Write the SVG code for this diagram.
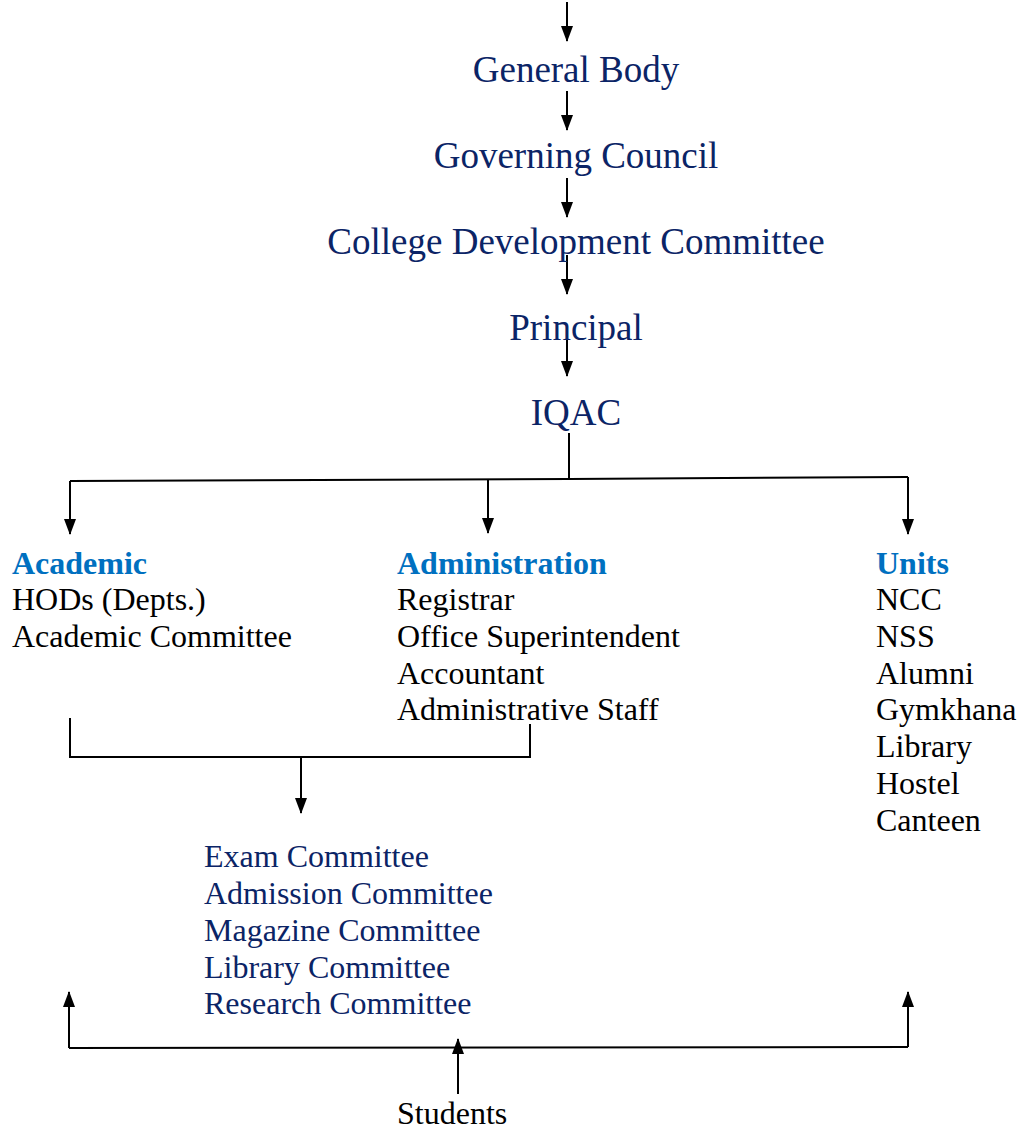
<svg xmlns="http://www.w3.org/2000/svg" width="1022" height="1129" viewBox="0 0 1022 1129">
<defs>
<marker id="ah" markerUnits="userSpaceOnUse" markerWidth="16" markerHeight="13" refX="15" refY="6.5" orient="auto">
<path d="M0,0.5 L16,6.5 L0,12.5 Z" fill="#000"/>
</marker>
<style>
.t{font-family:"Liberation Serif","Times New Roman",serif;}
.top{font-size:37px;fill:#0B2466;text-anchor:middle;}
.hd{font-size:32px;font-weight:bold;fill:#0070C0;}
.bd{font-size:32px;fill:#000;}
.cm{font-size:32px;fill:#0B2466;}
.c{stroke:#000;stroke-width:2;fill:none;}
.a{stroke:#000;stroke-width:2;fill:none;marker-end:url(#ah);}
</style>
</defs>
<rect width="1022" height="1129" fill="#fff"/>
<g id="connectors">
<line class="a" x1="567" y1="2" x2="567" y2="41"/>
<line class="a" x1="567" y1="91" x2="567" y2="130"/>
<line class="a" x1="567" y1="178" x2="567" y2="217"/>
<line class="a" x1="567" y1="255" x2="567" y2="294"/>
<line class="a" x1="567" y1="335" x2="567" y2="376"/>
<line class="c" x1="569" y1="433" x2="569" y2="479"/>
<polyline class="c" points="70,481 569,479 908,477"/>
<line class="a" x1="70" y1="481" x2="70" y2="534"/>
<line class="a" x1="488" y1="480" x2="488" y2="533"/>
<line class="a" x1="908" y1="477" x2="908" y2="534"/>
<polyline class="c" points="70,718 70,757 530,757 530,724"/>
<line class="a" x1="301" y1="757" x2="301" y2="813"/>
<polyline class="c" points="69,1048 908,1047"/>
<line class="a" x1="69" y1="1048" x2="69" y2="992"/>
<line class="a" x1="908" y1="1047" x2="908" y2="992"/>
<line class="a" x1="458" y1="1094" x2="458" y2="1039"/>
</g>
<g id="general-body"><text class="t top" x="576" y="82">General Body</text></g>
<g id="governing-council"><text class="t top" x="576" y="168">Governing Council</text></g>
<g id="cdc"><text class="t top" x="576" y="254">College Development Committee</text></g>
<g id="principal"><text class="t top" x="576" y="340">Principal</text></g>
<g id="iqac"><text class="t top" x="576" y="425">IQAC</text></g>
<g id="academic">
<text class="t hd" x="12" y="574">Academic</text>
<text class="t bd" x="12" y="610">HODs (Depts.)</text>
<text class="t bd" x="12" y="647">Academic Committee</text>
</g>
<g id="administration">
<text class="t hd" x="397" y="574">Administration</text>
<text class="t bd" x="397" y="610">Registrar</text>
<text class="t bd" x="397" y="647">Office Superintendent</text>
<text class="t bd" x="397" y="684">Accountant</text>
<text class="t bd" x="397" y="720">Administrative Staff</text>
</g>
<g id="units">
<text class="t hd" x="876" y="574">Units</text>
<text class="t bd" x="876" y="610">NCC</text>
<text class="t bd" x="876" y="647">NSS</text>
<text class="t bd" x="876" y="684">Alumni</text>
<text class="t bd" x="876" y="720">Gymkhana</text>
<text class="t bd" x="876" y="757">Library</text>
<text class="t bd" x="876" y="794">Hostel</text>
<text class="t bd" x="876" y="831">Canteen</text>
</g>
<g id="committees">
<text class="t cm" x="204" y="867">Exam Committee</text>
<text class="t cm" x="204" y="904">Admission Committee</text>
<text class="t cm" x="204" y="941">Magazine Committee</text>
<text class="t cm" x="204" y="978">Library Committee</text>
<text class="t cm" x="204" y="1014">Research Committee</text>
</g>
<g id="students"><text class="t bd" x="397" y="1124">Students</text></g>
</svg>
